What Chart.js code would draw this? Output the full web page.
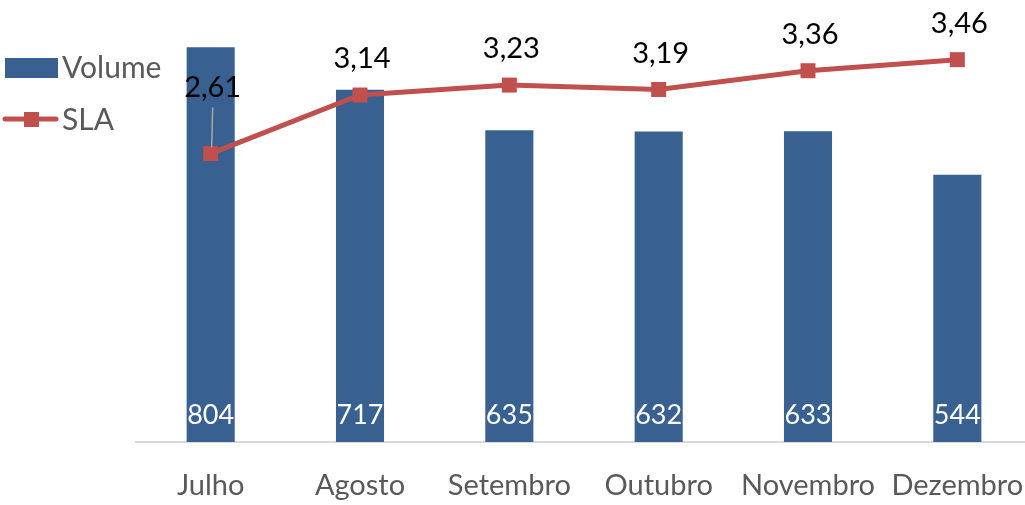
<!DOCTYPE html>
<html>
<head>
<meta charset="utf-8">
<script src="https://cdn.jsdelivr.net/npm/chart.js@4.4.1/dist/chart.umd.min.js"></script>
<style>
  html, body { margin: 0; padding: 0; background: #fff; overflow: hidden; }
  #wrap { width: 1032px; height: 505px; }
  canvas { display: block; }
</style>
</head>
<body>
<div id="wrap"><canvas id="chart" width="1032" height="505"></canvas></div>
<script>
// dados
const meses = ["Julho", "Agosto", "Setembro", "Outubro", "Novembro", "Dezembro"];
const volume = [804, 717, 635, 632, 633, 544];
const sla = [2.61, 3.14, 3.23, 3.19, 3.36, 3.46];

const AZUL = "#386091";
const VERMELHO = "#C0504D";
const FONTE = "Lato, 'Open Sans', sans-serif";

const fmt = (v) => v.toFixed(2).replace(".", ",");

// rótulos de dados + legenda desenhados à mão
const rotulos = {
  id: "rotulos",
  afterDatasetsDraw(chart) {
    const ctx = chart.ctx;
    ctx.save();
    ctx.textAlign = "center";
    ctx.textBaseline = "middle";

    // valores dentro das barras
    const barras = chart.getDatasetMeta(0).data;
    ctx.font = "27px " + FONTE;
    ctx.fillStyle = "#fff";
    barras.forEach((b, i) => {
      ctx.fillText(volume[i], b.x, chart.chartArea.bottom - 27);
    });

    // valores da linha
    const pontos = chart.getDatasetMeta(1).data;
    ctx.font = "29px " + FONTE;
    pontos.forEach((p, i) => {
      let dy = 36;
      if (i === 0) {
        dy = 66;
        ctx.strokeStyle = "#a6a6a6";
        ctx.lineWidth = 1.5;
        ctx.beginPath();
        ctx.moveTo(p.x + 2, p.y - dy + 20);
        ctx.lineTo(p.x + 1, p.y - 6);
        ctx.stroke();
      }
      ctx.fillStyle = "#000";
      ctx.fillText(fmt(sla[i]), p.x + 2, p.y - dy);
    });

    // legenda
    ctx.textAlign = "left";
    ctx.fillStyle = AZUL;
    ctx.fillRect(5, 58, 53, 20);
    ctx.strokeStyle = VERMELHO;
    ctx.lineWidth = 5;
    ctx.lineCap = "round";
    ctx.beginPath();
    ctx.moveTo(5, 119);
    ctx.lineTo(56, 119);
    ctx.stroke();
    ctx.fillStyle = VERMELHO;
    ctx.fillRect(24, 112, 15, 15);
    ctx.fillStyle = "#595959";
    ctx.font = "30px " + FONTE;
    ctx.fillText("Volume", 62, 68);
    ctx.fillText("SLA", 62, 120);
    ctx.restore();
  }
};

new Chart(document.getElementById("chart"), {
  data: {
    labels: meses,
    datasets: [
      {
        type: "bar",
        label: "Volume",
        data: volume,
        backgroundColor: AZUL,
        yAxisID: "y",
        categoryPercentage: 1,
        barPercentage: 0.322,
        order: 2
      },
      {
        type: "line",
        label: "SLA",
        data: sla,
        borderColor: VERMELHO,
        backgroundColor: VERMELHO,
        borderWidth: 5,
        pointStyle: "rect",
        pointRadius: 10.6,
        pointHoverRadius: 10.6,
        pointBorderWidth: 0,
        tension: 0,
        clip: false,
        yAxisID: "y1",
        order: 1
      }
    ]
  },
  options: {
    responsive: false,
    animation: false,
    devicePixelRatio: 1,
    layout: { autoPadding: false, padding: { left: 136, right: 0, top: 0, bottom: 0 } },
    plugins: { legend: { display: false }, tooltip: { enabled: false } },
    scales: {
      x: {
        grid: { display: false, drawTicks: false },
        border: { display: true, color: "#d9d9d9", width: 2 },
        ticks: { color: "#595959", font: { family: FONTE, size: 29 }, padding: 26, maxRotation: 0, autoSkip: false },
        afterFit: (axis) => {
          axis.height = 63;
          axis.paddingLeft = 0;
          axis.paddingRight = 0;
        }
      },
      y: { display: false, min: 0, max: 900 },
      y1: { display: false, min: 0, max: 4, position: "right" }
    }
  },
  plugins: [rotulos]
});
</script>
</body>
</html>
